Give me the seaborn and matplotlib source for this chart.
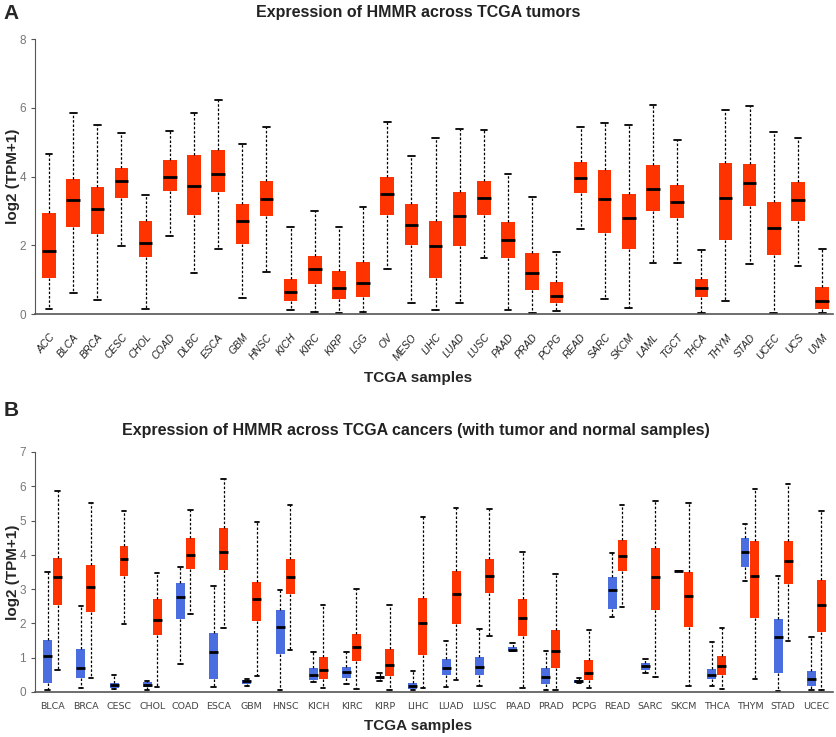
import numpy as np
import pandas as pd
import matplotlib
matplotlib.use("Agg")
import matplotlib.pyplot as plt
import seaborn as sns

# Panel A: HMMR in tumour samples only (five-number summaries)
cancers_a = ['ACC', 'BLCA', 'BRCA', 'CESC', 'CHOL', 'COAD', 'DLBC', 'ESCA', 'GBM', 'HNSC',
             'KICH', 'KIRC', 'KIRP', 'LGG', 'OV', 'MESO', 'LIHC', 'LUAD', 'LUSC', 'PAAD',
             'PRAD', 'PCPG', 'READ', 'SARC', 'SKCM', 'LAML', 'TGCT', 'THCA', 'THYM', 'STAD',
             'UCEC', 'UCS', 'UVM']
low_a = [0.15, 0.61, 0.41, 1.98, 0.15, 2.26, 1.18, 1.89, 0.46, 1.23,
         0.12, 0.07, 0.03, 0.07, 1.30, 0.31, 0.13, 0.33, 1.62, 0.13,
         0.03, 0.10, 2.46, 0.44, 0.18, 1.49, 1.49, 0.03, 0.39, 1.46,
         0.03, 1.41, 0.03]
q1_a = [1.04, 2.54, 2.33, 3.37, 1.66, 3.58, 2.87, 3.55, 2.05, 2.85,
        0.37, 0.88, 0.44, 0.50, 2.87, 2.02, 1.04, 1.97, 2.88, 1.64,
        0.71, 0.31, 3.51, 2.36, 1.88, 3.01, 2.79, 0.49, 2.16, 3.13,
        1.73, 2.72, 0.15]
med_a = [1.82, 3.32, 3.06, 3.86, 2.08, 3.99, 3.73, 4.07, 2.70, 3.35,
         0.63, 1.31, 0.76, 0.91, 3.50, 2.59, 1.99, 2.85, 3.38, 2.16,
         1.20, 0.53, 3.97, 3.35, 2.79, 3.63, 3.27, 0.75, 3.37, 3.81,
         2.51, 3.32, 0.37]
q3_a = [2.95, 3.92, 3.70, 4.26, 2.70, 4.48, 4.63, 4.76, 3.21, 3.88,
        1.01, 1.70, 1.24, 1.50, 3.98, 3.21, 2.72, 3.54, 3.88, 2.69,
        1.78, 0.92, 4.43, 4.19, 3.49, 4.34, 3.75, 1.03, 4.40, 4.37,
        3.26, 3.83, 0.78]
high_a = [4.65, 5.86, 5.50, 5.28, 3.46, 5.31, 5.84, 6.24, 4.94, 5.44,
          2.52, 3.00, 2.52, 3.12, 5.58, 4.60, 5.11, 5.39, 5.35, 4.08,
          3.40, 1.80, 5.45, 5.56, 5.51, 6.08, 5.07, 1.87, 5.94, 6.05,
          5.30, 5.11, 1.89]

# Panel B: paired normal / tumour samples
cancers_b = ['BLCA', 'BRCA', 'CESC', 'CHOL', 'COAD', 'ESCA', 'GBM', 'HNSC', 'KICH', 'KIRC',
             'KIRP', 'LIHC', 'LUAD', 'LUSC', 'PAAD', 'PRAD', 'PCPG', 'READ', 'SARC', 'SKCM',
             'THCA', 'THYM', 'STAD', 'UCEC']
n_low = [0.07, 0.11, 0.09, 0.07, 0.83, 0.15, 0.17, 0.05, 0.28, 0.24,
         0.32, 0.05, 0.15, 0.17, 1.20, 0.05, 0.25, 2.20, 0.56, 3.54,
         0.17, 3.23, 0.03, 0.05]
n_q1 = [0.26, 0.40, 0.12, 0.16, 2.13, 0.38, 0.23, 1.12, 0.35, 0.40,
        0.38, 0.09, 0.50, 0.50, 1.20, 0.23, 0.27, 2.43, 0.65, 3.54,
        0.37, 3.66, 0.54, 0.17]
n_med = [1.05, 0.71, 0.20, 0.21, 2.77, 1.17, 0.32, 1.91, 0.50, 0.57,
         0.43, 0.18, 0.69, 0.73, 1.22, 0.43, 0.31, 2.97, 0.76, 3.54,
         0.49, 4.08, 1.60, 0.39]
n_q3 = [1.51, 1.25, 0.27, 0.28, 3.19, 1.72, 0.35, 2.39, 0.70, 0.72,
        0.47, 0.27, 0.95, 1.02, 1.32, 0.70, 0.36, 3.35, 0.84, 3.54,
        0.68, 4.50, 2.14, 0.60]
n_high = [3.50, 2.52, 0.50, 0.33, 3.64, 3.10, 0.38, 2.98, 1.17, 1.16,
          0.55, 0.60, 1.49, 1.84, 1.42, 1.21, 0.41, 4.04, 0.95, 3.54,
          1.47, 4.91, 3.37, 1.60]
t_low = [0.63, 0.40, 1.99, 0.15, 2.28, 1.87, 0.47, 1.22, 0.13, 0.10,
         0.05, 0.13, 0.35, 1.62, 0.13, 0.07, 0.11, 2.47, 0.45, 0.17,
         0.09, 0.39, 1.48, 0.07]
t_q1 = [2.55, 2.34, 3.38, 1.67, 3.60, 3.57, 2.06, 2.85, 0.38, 0.90,
        0.46, 1.07, 1.99, 2.88, 1.64, 0.71, 0.34, 3.52, 2.39, 1.89,
        0.50, 2.17, 3.15, 1.75]
t_med = [3.34, 3.07, 3.88, 2.11, 4.01, 4.09, 2.70, 3.36, 0.64, 1.31,
         0.78, 2.00, 2.86, 3.38, 2.17, 1.20, 0.54, 3.97, 3.36, 2.81,
         0.76, 3.38, 3.83, 2.53]
t_q3 = [3.90, 3.71, 4.27, 2.71, 4.49, 4.78, 3.21, 3.88, 1.02, 1.70,
        1.25, 2.74, 3.53, 3.88, 2.71, 1.81, 0.94, 4.44, 4.19, 3.50,
        1.05, 4.41, 4.39, 3.26]
t_high = [5.87, 5.50, 5.28, 3.48, 5.31, 6.21, 4.95, 5.44, 2.55, 3.01,
          2.55, 5.10, 5.38, 5.35, 4.08, 3.43, 1.82, 5.46, 5.57, 5.52,
          1.86, 5.92, 6.06, 5.28]

RED = '#ff3300'
BLUE = '#4a6ee0'

# five values per box -> quartiles land exactly on them, whiskers at min/max
rows_a = []
for i, c in enumerate(cancers_a):
    for v in (low_a[i], q1_a[i], med_a[i], q3_a[i], high_a[i]):
        rows_a.append({'cancer': c, 'value': v})
df_a = pd.DataFrame(rows_a)

rows_b = []
for i, c in enumerate(cancers_b):
    for v in (n_low[i], n_q1[i], n_med[i], n_q3[i], n_high[i]):
        rows_b.append({'cancer': c, 'group': 'Normal', 'value': v})
    for v in (t_low[i], t_q1[i], t_med[i], t_q3[i], t_high[i]):
        rows_b.append({'cancer': c, 'group': 'Tumor', 'value': v})
df_b = pd.DataFrame(rows_b)

sns.set_style('ticks')
plt.rcParams['font.family'] = ['Liberation Sans', 'DejaVu Sans']

box_kws = dict(whis=(0, 100), showfliers=False, linecolor='black',
               boxprops=dict(linewidth=0),
               medianprops=dict(color='black', linewidth=2),
               whiskerprops=dict(color='black', linewidth=0.9, linestyle=(0, (2, 1.5))),
               capprops=dict(color='black', linewidth=1.3))

fig = plt.figure(figsize=(8.37, 7.37), dpi=100)
W, H = 837, 737
ax_a = fig.add_axes([35 / W, 1 - 314 / H, (833 - 35) / W, (314 - 39) / H])
ax_b = fig.add_axes([35 / W, 1 - 692 / H, (833 - 35) / W, (692 - 452) / H])

sns.boxplot(data=df_a, x='cancer', y='value', order=cancers_a, color=RED,
            saturation=1, width=0.56, ax=ax_a, **box_kws)
sns.boxplot(data=df_b, x='cancer', y='value', hue='group', order=cancers_b,
            hue_order=['Normal', 'Tumor'], palette=[BLUE, RED], saturation=1,
            width=0.6, gap=0.1, legend=False, ax=ax_b, **box_kws)

for ax in (ax_a, ax_b):
    sns.despine(ax=ax)
    ax.spines['left'].set_color('#555555')
    ax.spines['bottom'].set_color('#555555')
    ax.spines['bottom'].set_linewidth(1.2)
    ax.tick_params(axis='y', colors='#555555', labelcolor='#777777', labelsize=8.5,
                   length=3, width=0.8)
    ax.tick_params(axis='x', length=0)
    ax.set_xlabel('')
    ax.set_ylabel('log2 (TPM+1)', fontsize=11, fontweight='bold')
    ax.yaxis.set_label_coords(-15 / 798, 0.5)

ax_a.set_ylim(0, 8)
ax_a.set_yticks([0, 2, 4, 6, 8])
ax_a.set_xlim(-0.58, 32.45)
for lab in ax_a.get_xticklabels():
    lab.set_rotation(50)
    lab.set_ha('right')
    lab.set_rotation_mode('anchor')
    lab.set_fontstyle('italic')
    lab.set_fontsize(7.5)
    lab.set_color('#222222')
ax_a.tick_params(axis='x', pad=13)

ax_b.set_ylim(0, 7)
ax_b.set_yticks(range(8))
ax_b.set_xlim(-0.53, 23.5)
ax_b.tick_params(axis='x', labelsize=6.8, labelcolor='#444444', pad=7)
for lab in ax_b.get_xticklabels():
    lab.set_family('DejaVu Sans')

fig.text(0.004, 1 - 4 / H, 'A', fontsize=15, fontweight='bold', va='top', ha='left')
fig.text(0.5, 1 - 13 / H, 'Expression of HMMR across TCGA tumors', fontsize=11.5,
         fontweight='bold', ha='center', va='center', color='#222222')
fig.text(0.5, 1 - 378 / H, 'TCGA samples', fontsize=11, fontweight='bold',
         ha='center', va='center')

fig.text(0.004, 1 - 410 / H, 'B', fontsize=15, fontweight='bold', va='center', ha='left')
fig.text(0.497, 1 - 430 / H, 'Expression of HMMR across TCGA cancers (with tumor and normal samples)',
         fontsize=11.5, fontweight='bold', ha='center', va='center', color='#222222')
fig.text(0.5, 1 - 726 / H, 'TCGA samples', fontsize=11, fontweight='bold',
         ha='center', va='center')

fig.savefig('out.png', dpi=100)
